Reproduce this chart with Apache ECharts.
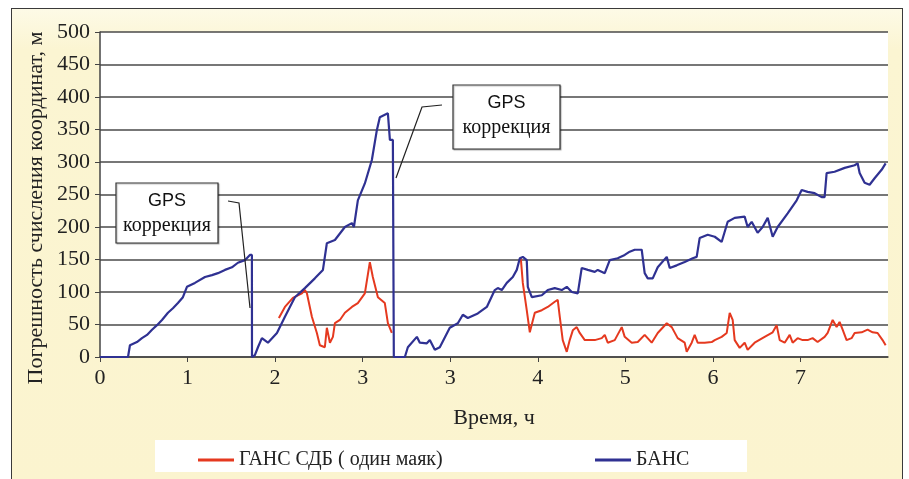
<!DOCTYPE html>
<html>
<head>
<meta charset="utf-8">
<script src="https://cdn.jsdelivr.net/npm/echarts@6/dist/echarts.min.js"></script>
<style>
  html, body { margin: 0; padding: 0; background: #ffffff; }
  #frame {
    position: absolute; left: 11px; top: 8px; width: 890px; height: 480px;
    border: 1.5px solid #3a3a3a;
    background: linear-gradient(#fdfae6 0px, #fbf5d2 40px, #fbf4cf 100%);
  }
  #chart { position: absolute; left: 0; top: 0; width: 909px; height: 479px; }
</style>
</head>
<body>
<div id="frame"></div>
<div id="chart"></div>
<script>
// Tick labels along the time axis (as printed on the axis)
const timeTickLabels = ['0', '1', '2', '3', '3', '4', '5', '6', '7'];
const yTicks = [0, 50, 100, 150, 200, 250, 300, 350, 400, 450, 500];

// БАНС: time (axis units) and position error, m
const bansTime = [
  0, 0.32, 0.342, 0.422, 0.479, 0.537, 0.594, 0.651, 0.708, 0.776, 0.833, 0.890, 0.947, 0.993,
  1.084, 1.199, 1.279, 1.347, 1.427, 1.507, 1.575, 1.655, 1.712, 1.735, 1.736, 1.769, 1.804, 1.849,
  1.918, 2.021, 2.112, 2.226, 2.340, 2.454, 2.546, 2.591, 2.683, 2.797, 2.877, 2.900, 2.945, 3.025,
  3.105, 3.162, 3.196, 3.242, 3.288, 3.311, 3.345, 3.356, 3.482, 3.516, 3.619, 3.653, 3.733, 3.767,
  3.824, 3.881, 3.995, 4.087, 4.144, 4.201, 4.315, 4.418, 4.509, 4.543, 4.589, 4.646, 4.715, 4.760,
  4.795, 4.829, 4.874, 4.886, 4.932, 5.046, 5.114, 5.194, 5.274, 5.331, 5.388, 5.457, 5.502, 5.571,
  5.651, 5.685, 5.765, 5.822, 5.913, 5.993, 6.050, 6.107, 6.187, 6.221, 6.256, 6.313, 6.370, 6.473,
  6.507, 6.587, 6.678, 6.770, 6.815, 6.849, 6.941, 7.021, 7.100, 7.169, 7.249, 7.363, 7.397, 7.443,
  7.511, 7.568, 7.626, 7.683, 7.740, 7.854, 7.957, 8.014, 8.082, 8.162, 8.242, 8.276, 8.299, 8.390,
  8.505, 8.619, 8.653, 8.676, 8.733, 8.790, 8.847, 8.927, 8.973
];
const bansError = [
  0, 0, 18, 23, 29, 34, 42, 49, 57, 68, 75, 83, 92, 108,
  114, 123, 126, 129, 134, 138, 145, 149, 157, 157, 0, 3, 15, 29,
  22, 37, 62, 92, 106, 121, 134, 175, 180, 200, 206, 200, 241, 267,
  303, 349, 369, 372, 375, 334, 334, 0, 0, 15, 31, 22, 21, 26,
  11, 15, 45, 52, 65, 60, 67, 77, 103, 106, 103, 114, 123, 134,
  152, 154, 149, 108, 92, 95, 103, 106, 103, 108, 100, 98, 137, 134,
  131, 134, 129, 149, 152, 157, 162, 165, 165, 129, 121, 121, 138, 154,
  137, 141, 146, 152, 154, 183, 188, 185, 177, 208, 214, 216, 200, 208,
  191, 200, 214, 185, 200, 221, 241, 257, 254, 252, 246, 246, 283, 285,
  291, 295, 298, 283, 268, 265, 275, 288, 298
];

// ГАНС СДБ (один маяк): time and position error, m (null = no visible track)
const gansTime = [
  2.043, 2.112, 2.203, 2.306, 2.340, 2.363, 2.420, 2.477, 2.511, 2.568, 2.591, 2.626, 2.660, 2.683,
  2.740, 2.797, 2.877, 2.945, 3.025, 3.082, 3.116, 3.174, 3.253, 3.288, 3.333, 4.0,
  4.806, 4.829, 4.874, 4.909, 4.966, 5.046, 5.114, 5.194, 5.228, 5.251, 5.285, 5.331, 5.365, 5.400,
  5.445, 5.479, 5.537, 5.651, 5.731, 5.765, 5.799, 5.879, 5.959, 5.993, 6.073, 6.142, 6.221, 6.301,
  6.370, 6.473, 6.530, 6.598, 6.678, 6.701, 6.758, 6.792, 6.826, 6.906, 6.986, 7.021, 7.100, 7.158,
  7.192, 7.226, 7.249, 7.306, 7.363, 7.397, 7.477, 7.591, 7.683, 7.728, 7.763, 7.820, 7.877, 7.911,
  7.968, 8.025, 8.082, 8.139, 8.196, 8.276, 8.311, 8.368, 8.413, 8.447, 8.482, 8.527, 8.584, 8.619,
  8.699, 8.767, 8.824, 8.881, 8.938, 8.973
];
const gansError = [
  60, 77, 91, 98, 103, 98, 62, 37, 18, 15, 45, 22, 31, 52,
  57, 68, 77, 83, 98, 146, 123, 92, 83, 52, 37, null,
  152, 114, 72, 38, 68, 72, 77, 85, 88, 62, 26, 8, 26, 41,
  46, 37, 26, 26, 29, 34, 22, 26, 46, 31, 22, 23, 34, 22,
  37, 52, 46, 29, 22, 8, 22, 34, 22, 22, 23, 26, 31, 37,
  68, 57, 26, 14, 22, 11, 22, 31, 38, 49, 26, 22, 34, 22,
  29, 26, 26, 29, 23, 31, 37, 57, 46, 54, 42, 26, 29, 37,
  38, 42, 38, 37, 26, 18
];

const seriesNames = ['ГАНС СДБ ( один маяк)', 'БАНС'];
const colors = ['#e5391f', '#2f3192'];
const yAxisTitle = 'Погрешность счисления координат, м';

function pairs(xs, ys) { return xs.map((x, i) => [x, ys[i]]); }

const serif = '"Liberation Serif", "Times New Roman", serif';
const sans = '"Liberation Sans", Arial, sans-serif';

const chart = echarts.init(document.getElementById('chart'), null, { renderer: 'canvas' });

// Callout: box with "GPS / коррекция" and a leader line
function callout(x, y, w, h, leader) {
  return [
    {
      type: 'polyline', z: 100,
      shape: { points: leader },
      style: { stroke: '#222', lineWidth: 1.2, fill: null }
    },
    {
      type: 'rect', z: 100,
      shape: { x: x, y: y, width: w, height: h },
      style: { fill: '#ffffff', stroke: '#333', lineWidth: 1.2,
               shadowColor: 'rgba(0,0,0,0.25)', shadowOffsetX: 1, shadowOffsetY: 1, shadowBlur: 1 }
    },
    {
      type: 'text', z: 101,
      x: x + w / 2, y: y + 18,
      style: { text: 'GPS', font: '18px ' + sans, fill: '#111', align: 'center', verticalAlign: 'middle' }
    },
    {
      type: 'text', z: 101,
      x: x + w / 2, y: y + 43,
      style: { text: 'коррекция', font: '20px ' + serif, fill: '#111', align: 'center', verticalAlign: 'middle' }
    }
  ];
}

const option = {
  animation: false,
  backgroundColor: 'transparent',
  grid: {
    left: 100, top: 32, right: 21, bottom: 122,
    show: true, backgroundColor: '#ffffff', borderWidth: 0
  },
  xAxis: {
    type: 'value', min: 0, max: 9, interval: 1,
    name: 'Время, ч', nameLocation: 'middle', nameGap: 50,
    nameTextStyle: { fontFamily: serif, fontSize: 22, color: '#222' },
    axisLine: { show: true, lineStyle: { color: '#444', width: 1.5 } },
    axisTick: { show: true, length: 5, lineStyle: { color: '#444' }, customValues: [0, 1, 2, 3, 4, 5, 6, 7, 8] },
    axisLabel: {
      fontFamily: serif, fontSize: 22, color: '#222', margin: 10,
      customValues: [0, 1, 2, 3, 4, 5, 6, 7, 8],
      formatter: v => (timeTickLabels[Math.round(v)] !== undefined ? timeTickLabels[Math.round(v)] : '')
    },
    splitLine: { show: false }
  },
  yAxis: {
    type: 'value', min: yTicks[0], max: yTicks[yTicks.length - 1], interval: 50,
    axisLine: { show: true, lineStyle: { color: '#444', width: 1.5 } },
    axisTick: { show: true, length: 5, lineStyle: { color: '#444' } },
    axisLabel: { fontFamily: serif, fontSize: 22, color: '#222', margin: 10 },
    splitLine: { show: true, lineStyle: { color: '#4a4a4a', width: 1.5 } }
  },
  legend: [
    {
      data: [seriesNames[0]], left: 193, top: 445,
      icon: 'rect', itemWidth: 36, itemHeight: 3, itemGap: 10,
      textStyle: { fontFamily: serif, fontSize: 20, color: '#222' }
    },
    {
      data: [seriesNames[1]], left: 590, top: 445,
      icon: 'rect', itemWidth: 36, itemHeight: 3, itemGap: 10,
      textStyle: { fontFamily: serif, fontSize: 20, color: '#222' }
    }
  ],
  series: [
    {
      name: seriesNames[0], type: 'line', data: pairs(gansTime, gansError),
      showSymbol: false, connectNulls: false, color: colors[0],
      lineStyle: { color: colors[0], width: 2 }, z: 3
    },
    {
      name: seriesNames[1], type: 'line', data: pairs(bansTime, bansError),
      showSymbol: false, color: colors[1],
      lineStyle: { color: colors[1], width: 2.2 }, z: 4
    }
  ],
  graphic: [
    // legend panel
    {
      type: 'rect', z: -10, silent: true,
      shape: { x: 155, y: 440, width: 592, height: 32 },
      style: { fill: '#ffffff' }
    },
    // vertical axis title
    {
      type: 'text', silent: true,
      x: 36, y: 208, rotation: Math.PI / 2,
      style: { text: yAxisTitle, font: '22px ' + serif, fill: '#222', align: 'center', verticalAlign: 'middle' }
    }
  ]
    .concat(callout(116, 183, 102, 60, [[228, 201], [239, 203], [250, 308]]))
    .concat(callout(453, 85, 107, 64, [[442, 105], [422, 107], [396, 178]]))
};

chart.setOption(option);
</script>
</body>
</html>
